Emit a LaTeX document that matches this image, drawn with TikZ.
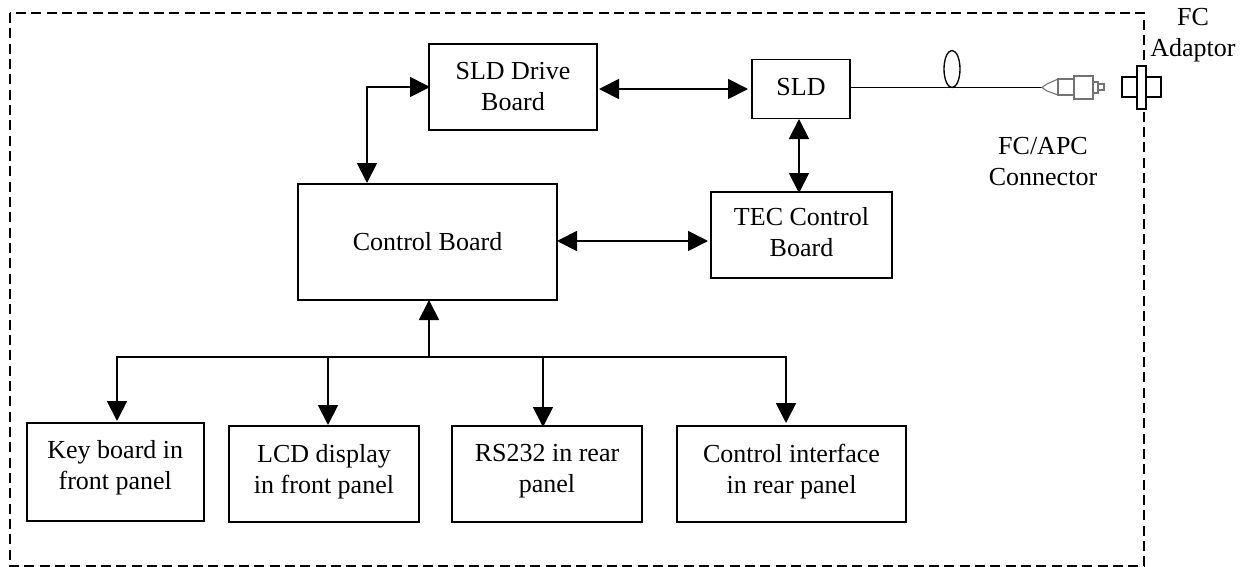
\documentclass[tikz,border=0pt]{standalone}
\usepackage{fontspec}
\setmainfont{Liberation Serif}
\usetikzlibrary{arrows.meta,shapes.geometric}
\tikzset{
  board/.style={draw,line width=1.2pt,inner sep=0pt},
  lbl/.style={align=center,inner sep=0pt,font=\fontsize{19.5}{23.25}\selectfont},
  link/.style={line width=1.4pt,{Triangle[length=15pt,width=15pt]}-{Triangle[length=15pt,width=15pt]}},
  down/.style={line width=1.4pt,-{Triangle[length=15pt,width=15pt]}},
  conn/.style={line width=.8pt,draw=black!55,fill=white},
  adapt/.style={line width=1.2pt,draw=black,fill=white}
}
\begin{document}
\begin{tikzpicture}[x=.75pt,y=-.75pt]
      \useasboundingbox (0,0) rectangle (1246,567);
      \draw[line width=1.8pt,dash pattern=on 7.5pt off 4pt] (10,13) rectangle (1144,566);
      \draw (513,87) node[board,minimum width=126pt,minimum height=64.5pt,label={[lbl]center:{SLD Drive\\Board}}] (drive) {};
      \draw (801,89) node[board,minimum width=73.5pt,minimum height=44.25pt,label={[lbl,yshift=1.5pt]center:SLD}] (sld) {};
      \draw (427.5,242) node[board,minimum width=194.25pt,minimum height=87pt,label={[lbl]center:Control Board}] (control) {};
      \draw (801.5,235) node[board,minimum width=136pt,minimum height=64.5pt,label={[lbl,yshift=2pt]center:{TEC Control\\Board}}] (tec) {};
      \draw (115.3,472) node[board,minimum width=132.75pt,minimum height=73.5pt,label={[lbl,yshift=3pt]center:{Key board in\\front panel}}] (key) {};
      \draw (324,474) node[board,minimum width=142.5pt,minimum height=72pt,label={[lbl,yshift=2pt]center:{LCD display\\in front panel}}] (lcd) {};
      \draw (547,474) node[board,minimum width=142.5pt,minimum height=72pt,label={[lbl,yshift=2pt]center:{RS232 in rear\\panel}}] (rs) {};
      \draw (791.5,474) node[board,minimum width=171.75pt,minimum height=72pt,label={[lbl,yshift=2pt]center:{Control interface\\in rear panel}}] (iface) {};
      \draw (1193,17) node[lbl] (fc) {FC};
      \draw (1193,50) node[lbl] (adaptor) {Adaptor};
      \draw (1043,161.5) node[lbl] (apc) {FC/APC\\Connector};
      % free ends
      \coordinate (ctop) at (367,183);
      \coordinate (dw) at (430,87);
      \coordinate (de) at (599,89);
      \coordinate (sw) at (748,89);
      \coordinate (ss) at (799,119);
      \coordinate (tn) at (799,193);
      \coordinate (ce) at (557,241);
      \coordinate (tw) at (708,241);
      \coordinate (cbot) at (429,300);
      \coordinate (bus) at (429,357);
      \coordinate (k1) at (117,357);
      \coordinate (k2) at (117,421);
      \coordinate (l1) at (328,357);
      \coordinate (l2) at (328,425);
      \coordinate (r1) at (543,357);
      \coordinate (r2) at (543,427);
      \coordinate (i1) at (786,357);
      \coordinate (i2) at (786,423);
      \coordinate (se) at (850,87.5);
      \coordinate (tip) at (1042,87.5);
      \draw[link] (dw) -| (ctop);
      \draw[link] (de) -- (sw);
      \draw[link] (ss) -- (tn);
      \draw[link] (ce) -- (tw);
      \draw[down] (bus) -- (cbot);
      \draw[line width=1.4pt,line cap=rect] (k1) -- (i1);
      \draw[down] (k1) -- (k2);
      \draw[down] (l1) -- (l2);
      \draw[down] (r1) -- (r2);
      \draw[down] (i1) -- (i2);
      \draw[line width=1.2pt] (se) -- (tip);
      \draw[line width=1pt] (952,69) ellipse (8 and 18.5);
      % connector and adaptor
      \draw[conn] (tip) -- (1047,84) -- (1058,79) -- (1058,95) -- (1047,91) -- cycle;
      \draw[conn] (1058,79) rectangle (1074,95);
      \draw[conn] (1074,76) rectangle (1093,99);
      \draw[conn] (1093,82) rectangle (1098,93);
      \draw[conn] (1098,84) rectangle (1104,90);
      \draw[adapt] (1122,77) rectangle (1161,97);
      \draw[adapt] (1137,66) rectangle (1146,109);
    \end{tikzpicture}
\end{document}
